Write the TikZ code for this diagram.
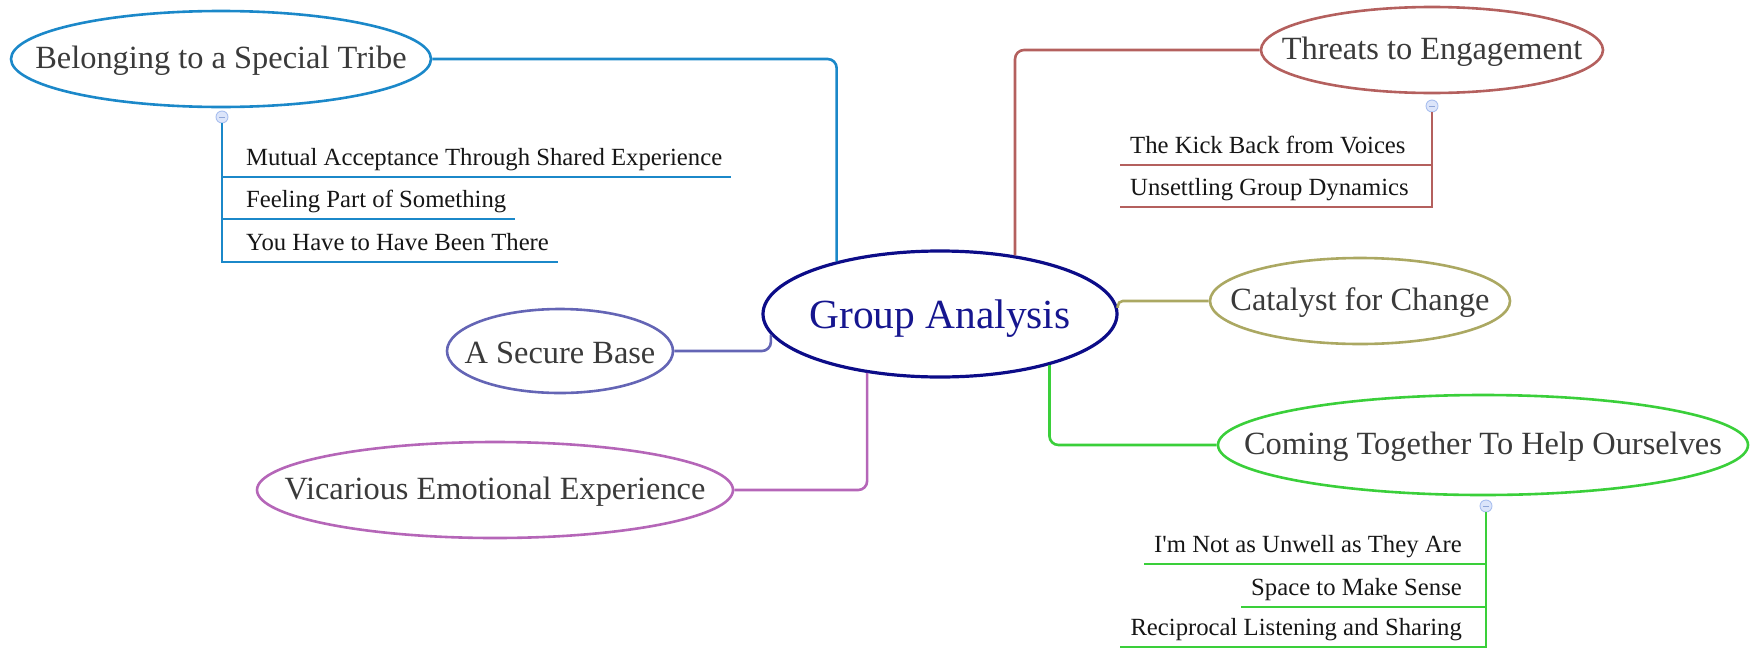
\documentclass[tikz,border=0pt]{standalone}
\usepackage{fontspec}
\setmainfont{Liberation Serif}
% same face without TeX ligature mapping, so ' stays a straight apostrophe
\newfontfamily\plainserif{Liberation Serif}
\usetikzlibrary{shapes.geometric}

\definecolor{navyline}{HTML}{0C0C88}
\definecolor{navytext}{HTML}{16168F}
\definecolor{tribeblue}{HTML}{1B88C9}
\definecolor{threatred}{HTML}{B4605E}
\definecolor{catolive}{HTML}{ABA862}
\definecolor{cominggreen}{HTML}{3ACF3A}
\definecolor{baseslate}{HTML}{6465B5}
\definecolor{vicpurple}{HTML}{B566B8}
\definecolor{labelgray}{HTML}{3A3A3A}
\definecolor{itemblack}{HTML}{161616}
\definecolor{foldfill}{HTML}{DCE5FA}
\definecolor{foldedge}{HTML}{A9BFEF}
\definecolor{foldmark}{HTML}{8FA6D8}

% label text that does not widen its ellipse, set slightly below centre
\newcommand{\lbl}[1]{\raisebox{-2pt}[\height][\depth]{\makebox[0pt][c]{#1}}}
\newcommand{\centrallbl}[1]{\raisebox{-4.5pt}[\height][\depth]{\makebox[0pt][c]{#1}}}

\begin{document}
\begin{tikzpicture}[x=1pt,y=-1pt,
  topic/.style={ellipse, draw, line width=2.6pt, inner sep=0pt, text=labelgray,
    font=\fontsize{32.4}{38}\selectfont},
  link/.style={line width=2.6pt, rounded corners=9pt},
  stemline/.style={line width=2.6pt},
  item/.style={inner sep=0pt, text=itemblack, font=\plainserif\fontsize{24.7}{29}\selectfont},
  fold/.style={circle, draw=foldedge, fill=foldfill, line width=0.9pt,
    minimum size=12pt, inner sep=0pt},
  foldminus/.style={draw=foldmark, line width=1pt}
]
\useasboundingbox (0,0) rectangle (1752,648);

% central topic
\node[ellipse, draw=navyline, line width=3.2pt, minimum width=354pt, minimum height=126pt,
  inner sep=0pt, text=navytext, font=\fontsize{41.4}{48}\selectfont]
  (ga) at (940,314) {\centrallbl{Group Analysis}};

% main branches
\node[topic, draw=tribeblue, minimum width=420pt, minimum height=96pt] (bel) at (221,59) {\lbl{Belonging to a Special Tribe}};
\node[topic, draw=threatred, minimum width=342pt, minimum height=86pt] (thr) at (1432,50) {\lbl{Threats to Engagement}};
\node[topic, draw=catolive, minimum width=300pt, minimum height=86pt] (cat) at (1360,301) {\lbl{Catalyst for Change}};
\node[topic, draw=cominggreen, minimum width=530pt, minimum height=100pt] (com) at (1483,445) {\lbl{Coming Together To Help Ourselves}};
\node[topic, draw=baseslate, minimum width=226pt, minimum height=84pt] (sb) at (560,351) {\lbl{A Secure Base}};
\node[topic, draw=vicpurple, minimum width=476pt, minimum height=96pt] (vic) at (495,490) {\lbl{Vicarious Emotional Experience}};

% connectors to the central topic
\draw[link, draw=tribeblue] (bel.east) -| (ga.153.9);
\draw[link, draw=threatred] (thr.west) -| (ga.38.2);
\draw[link, draw=catolive, rounded corners=5pt] (ga.2) |- (cat.west);
\draw[link, draw=cominggreen] (ga.335.8) |- (com.west);
\draw[link, draw=baseslate] (sb.east) -| (ga.187.9);
\draw[link, draw=vicpurple] (vic.east) -| (ga.219.6);

% Belonging to a Special Tribe: subtopics
\node[item, anchor=base west] (b1) at (246,165) {Mutual Acceptance Through Shared Experience};
\node[item, anchor=base west] (b2) at (246,207) {Feeling Part of Something};
\node[item, anchor=base west] (b3) at (246,250) {You Have to Have Been There};
\node[fold] (belfold) at (222,117) {};
\foreach \s in {b1,b2,b3}
  \draw[stemline, draw=tribeblue] (belfold.south) |- ([xshift=9pt,yshift=-12pt]\s.base east);
\draw[foldminus] ([xshift=-3pt]belfold.center) -- ([xshift=3pt]belfold.center);

% Threats to Engagement: subtopics
\node[item, anchor=base west] (t1) at (1130,153) {The Kick Back from Voices};
\node[item, anchor=base west] (t2) at (1130,195) {Unsettling Group Dynamics};
\node[fold] (thrfold) at (1432,106) {};
\foreach \s in {t1,t2}
  \draw[stemline, draw=threatred] (thrfold.south) |- ([xshift=-10pt,yshift=-12pt]\s.base west);
\draw[foldminus] ([xshift=-3pt]thrfold.center) -- ([xshift=3pt]thrfold.center);

% Coming Together To Help Ourselves: subtopics
\node[item, anchor=base east] (c1) at (1462,552) {I'm Not as Unwell as They Are};
\node[item, anchor=base east] (c2) at (1462,595) {Space to Make Sense};
\node[item, anchor=base east] (c3) at (1462,635) {Reciprocal Listening and Sharing};
\node[fold] (comfold) at (1486,506) {};
\foreach \s in {c1,c2,c3}
  \draw[stemline, draw=cominggreen] (comfold.south) |- ([xshift=-10pt,yshift=-12pt]\s.base west);
\draw[foldminus] ([xshift=-3pt]comfold.center) -- ([xshift=3pt]comfold.center);
\end{tikzpicture}
\end{document}
